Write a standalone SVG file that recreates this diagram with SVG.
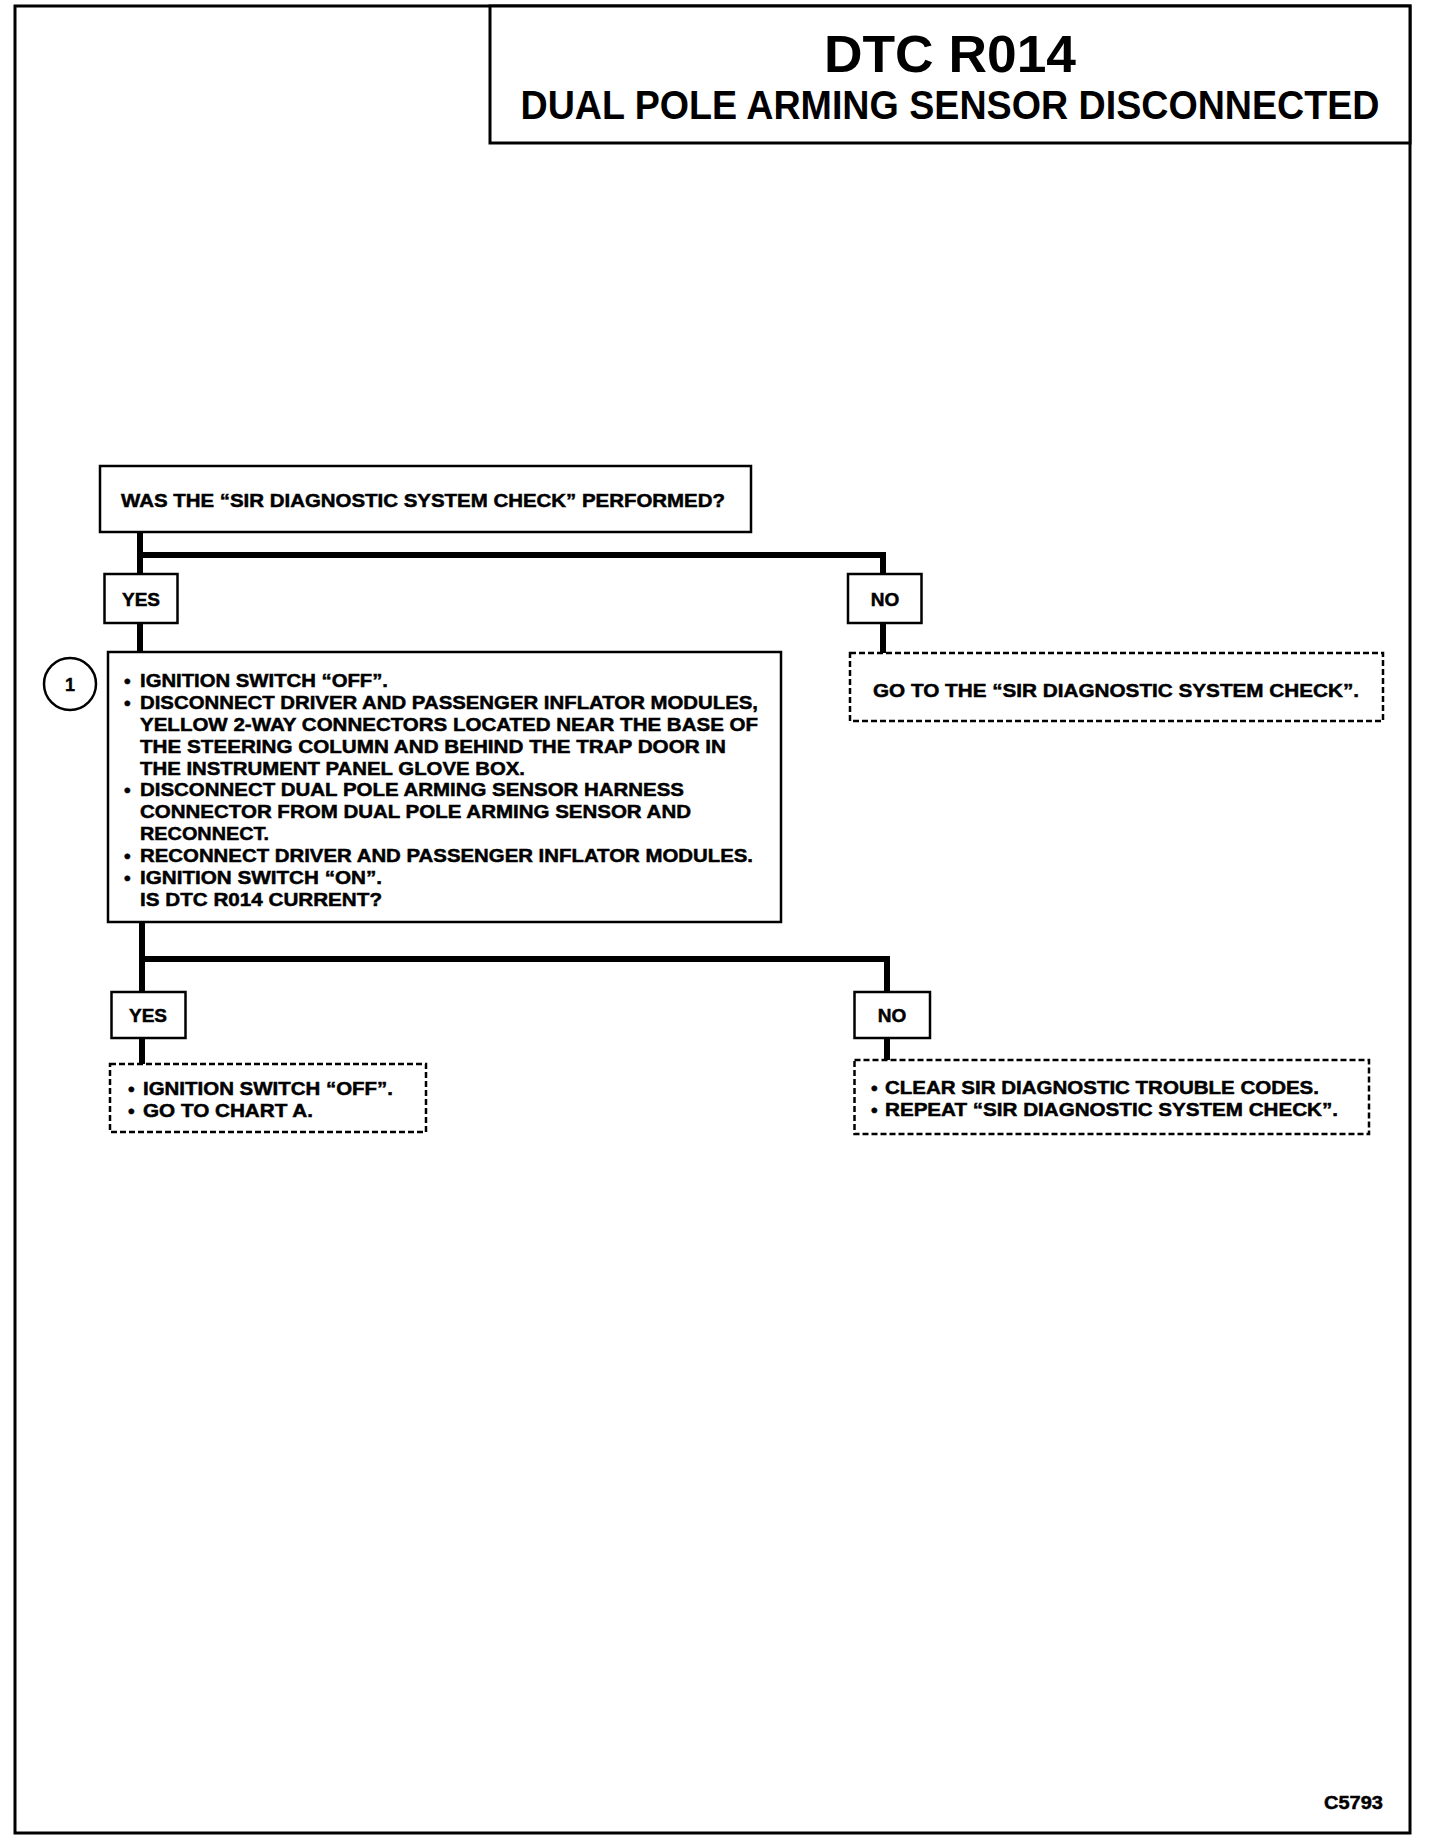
<svg xmlns="http://www.w3.org/2000/svg" width="1440" height="1840" viewBox="0 0 1440 1840">
<style>
  text { font-family: "Liberation Sans", Arial, sans-serif; font-weight: bold; fill: #000; }
  .t { font-size: 19px; stroke: #000; stroke-width: 0.5; }
  .lbl { font-size: 19px; text-anchor: middle; stroke: #000; stroke-width: 0.5; }
  .box { fill: #fff; stroke: #000; stroke-width: 2.5; }
  .dash { fill: #fff; stroke: #000; stroke-width: 2.5; stroke-dasharray: 6 3; }
  .conn { fill: none; stroke: #000; stroke-width: 6; stroke-linejoin: miter; }
</style>
<rect width="1440" height="1840" fill="#fff"/>
<rect x="15" y="6" width="1395" height="1827" fill="none" stroke="#000" stroke-width="3"/>

<g id="title">
  <rect x="490" y="6" width="920" height="137" fill="#fff" stroke="#000" stroke-width="3"/>
  <text x="950" y="72" font-size="51" text-anchor="middle" textLength="252" lengthAdjust="spacingAndGlyphs">DTC R014</text>
  <text x="950" y="119" font-size="40" text-anchor="middle" textLength="859" lengthAdjust="spacingAndGlyphs">DUAL POLE ARMING SENSOR DISCONNECTED</text>
</g>

<g id="connectors">
  <path class="conn" d="M140 532 V574 M140 555 H883 V574"/>
  <path class="conn" d="M140 623 V652"/>
  <path class="conn" d="M883 623 V653"/>
  <path class="conn" d="M142 921 V992 M142 959 H887 V992"/>
  <path class="conn" d="M142 1038 V1064"/>
  <path class="conn" d="M887 1038 V1060"/>
</g>

<g id="q1">
  <rect class="box" x="100" y="466" width="651" height="66"/>
  <text class="t" x="121" y="507" textLength="604" lengthAdjust="spacingAndGlyphs">WAS THE “SIR DIAGNOSTIC SYSTEM CHECK” PERFORMED?</text>
</g>

<g id="yes1">
  <rect class="box" x="104.5" y="574" width="73" height="49"/>
  <text class="lbl" x="141" y="606">YES</text>
</g>

<g id="no1">
  <rect class="box" x="848" y="574" width="73.5" height="49"/>
  <text class="lbl" x="885" y="606">NO</text>
</g>

<g id="no1-action">
  <rect class="dash" x="850" y="653" width="533" height="68"/>
  <text class="t" x="873" y="697" textLength="486" lengthAdjust="spacingAndGlyphs">GO TO THE “SIR DIAGNOSTIC SYSTEM CHECK”.</text>
</g>

<g id="step1-marker">
  <circle cx="70" cy="684" r="26" fill="#fff" stroke="#000" stroke-width="2.5"/>
  <text x="70" y="691" font-size="18" text-anchor="middle" stroke="#000" stroke-width="0.4">1</text>
</g>

<g id="step1">
  <rect class="box" x="108" y="652" width="673" height="270"/>
  <text class="t" x="124" y="687">•</text>
  <text class="t" x="140" y="687" textLength="248" lengthAdjust="spacingAndGlyphs">IGNITION SWITCH “OFF”.</text>
  <text class="t" x="124" y="709">•</text>
  <text class="t" x="140" y="709" textLength="618" lengthAdjust="spacingAndGlyphs">DISCONNECT DRIVER AND PASSENGER INFLATOR MODULES,</text>
  <text class="t" x="140" y="731" textLength="618" lengthAdjust="spacingAndGlyphs">YELLOW 2-WAY CONNECTORS LOCATED NEAR THE BASE OF</text>
  <text class="t" x="140" y="753" textLength="586" lengthAdjust="spacingAndGlyphs">THE STEERING COLUMN AND BEHIND THE TRAP DOOR IN</text>
  <text class="t" x="140" y="775" textLength="385" lengthAdjust="spacingAndGlyphs">THE INSTRUMENT PANEL GLOVE BOX.</text>
  <text class="t" x="124" y="796">•</text>
  <text class="t" x="140" y="796" textLength="544" lengthAdjust="spacingAndGlyphs">DISCONNECT DUAL POLE ARMING SENSOR HARNESS</text>
  <text class="t" x="140" y="818" textLength="551" lengthAdjust="spacingAndGlyphs">CONNECTOR FROM DUAL POLE ARMING SENSOR AND</text>
  <text class="t" x="140" y="840" textLength="129" lengthAdjust="spacingAndGlyphs">RECONNECT.</text>
  <text class="t" x="124" y="862">•</text>
  <text class="t" x="140" y="862" textLength="613" lengthAdjust="spacingAndGlyphs">RECONNECT DRIVER AND PASSENGER INFLATOR MODULES.</text>
  <text class="t" x="124" y="884">•</text>
  <text class="t" x="140" y="884" textLength="242" lengthAdjust="spacingAndGlyphs">IGNITION SWITCH “ON”.</text>
  <text class="t" x="140" y="906" textLength="242" lengthAdjust="spacingAndGlyphs">IS DTC R014 CURRENT?</text>
</g>

<g id="yes2">
  <rect class="box" x="111.5" y="992" width="74" height="46"/>
  <text class="lbl" x="148" y="1022">YES</text>
</g>

<g id="no2">
  <rect class="box" x="854.5" y="992" width="75.5" height="46"/>
  <text class="lbl" x="892" y="1022">NO</text>
</g>

<g id="yes2-action">
  <rect class="dash" x="110" y="1064" width="316" height="68"/>
  <text class="t" x="128" y="1095">•</text>
  <text class="t" x="143" y="1095" textLength="250" lengthAdjust="spacingAndGlyphs">IGNITION SWITCH “OFF”.</text>
  <text class="t" x="128" y="1117">•</text>
  <text class="t" x="143" y="1117" textLength="170" lengthAdjust="spacingAndGlyphs">GO TO CHART A.</text>
</g>

<g id="no2-action">
  <rect class="dash" x="854.5" y="1060" width="514.5" height="74"/>
  <text class="t" x="871" y="1094">•</text>
  <text class="t" x="885" y="1094" textLength="434" lengthAdjust="spacingAndGlyphs">CLEAR SIR DIAGNOSTIC TROUBLE CODES.</text>
  <text class="t" x="871" y="1116">•</text>
  <text class="t" x="885" y="1116" textLength="453" lengthAdjust="spacingAndGlyphs">REPEAT “SIR DIAGNOSTIC SYSTEM CHECK”.</text>
</g>

<text x="1383" y="1809" font-size="19" text-anchor="end" textLength="59" lengthAdjust="spacingAndGlyphs" stroke="#000" stroke-width="0.5">C5793</text>
</svg>
